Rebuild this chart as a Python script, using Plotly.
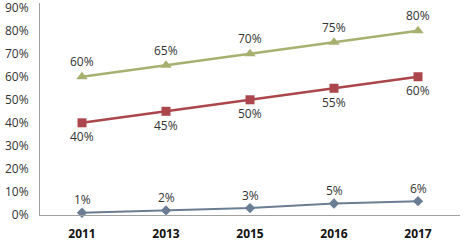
import plotly.graph_objects as go

years = ["2011", "2013", "2015", "2016", "2017"]
blue_vals = [1, 2, 3, 5, 6]
red_vals = [40, 45, 50, 55, 60]
green_vals = [60, 65, 70, 75, 80]
y_ticks = [0, 10, 20, 30, 40, 50, 60, 70, 80, 90]
y_tick_text = [f"{v}%" for v in y_ticks]

fam = "Open Sans, DejaVu Sans, sans-serif"
font = dict(family=fam, size=12, color="#333333")

series = [
    (blue_vals, "#6a7d92", "diamond", 8, 2, 13),
    (red_vals, "#ab464d", "square", 9, 2.5, -14),
    (green_vals, "#a8b070", "triangle-up", 10, 2.5, 15),
]

fig = go.Figure()
for vals, color, sym, msize, lw, shift in series:
    fig.add_trace(go.Scatter(
        x=years, y=vals, mode="lines+markers",
        line=dict(color=color, width=lw),
        marker=dict(symbol=sym, size=msize, color=color),
        cliponaxis=False,
    ))
    for i, yv in enumerate(vals):
        fig.add_annotation(x=i, y=yv, text=f"{yv}%", showarrow=False,
                           yshift=shift, font=font)

fig.update_layout(
    width=466, height=241,
    margin=dict(l=40, r=6, t=3, b=26),
    paper_bgcolor="white", plot_bgcolor="white",
    showlegend=False,
    xaxis=dict(
        type="category", range=[-0.5, 4.5], showgrid=False, showline=True,
        linecolor="#a0a0a0", linewidth=1, ticks="", ticklabelstandoff=8,
        automargin=False,
        tickfont=dict(family=fam, size=12, color="#111111", weight="bold"),
    ),
    yaxis=dict(
        range=[0, 92], tickmode="array", tickvals=y_ticks, ticktext=y_tick_text,
        showgrid=False, showline=True, linecolor="#a0a0a0", linewidth=1,
        zeroline=False, automargin=False, ticklabeloverflow="allow",
        ticks="", ticklabelstandoff=8, tickfont=dict(family=fam, size=12, color="#333333"),
    ),
)

fig.write_html("out.html")
